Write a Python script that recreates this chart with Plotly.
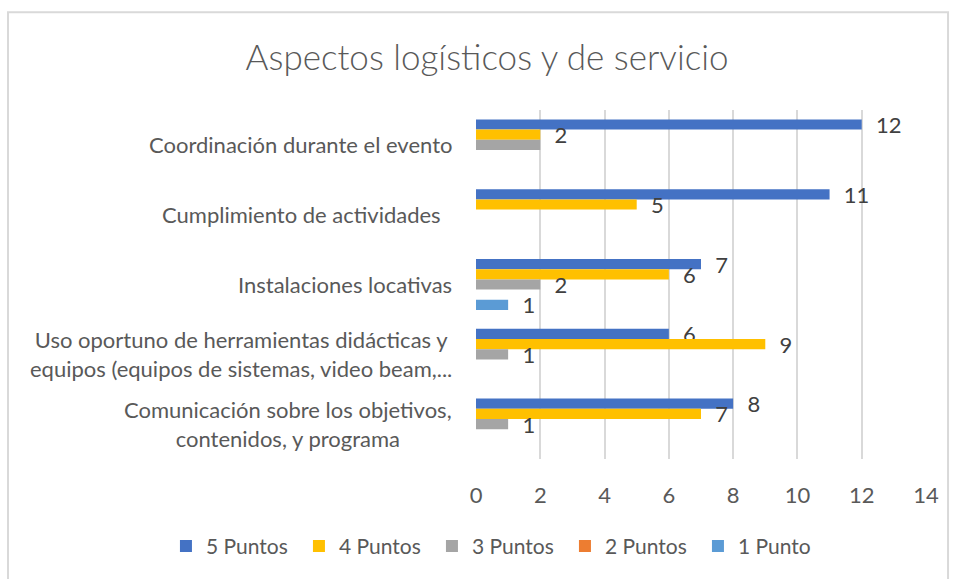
import plotly.graph_objects as go

# Categories (top to bottom as shown)
categories = [
  "Coordinación durante el evento",
  "Cumplimiento de actividades\u00a0\u00a0",
  "Instalaciones locativas",
  "Uso oportuno de herramientas didácticas y<br>equipos (equipos de sistemas, video beam,...",
  "Comunicación sobre los objetivos,<br>contenidos, y programa",
]

series_names = ["5 Puntos", "4 Puntos", "3 Puntos", "2 Puntos", "1 Punto"]
puntos_5 = [12, 11, 7, 6, 8]
puntos_4 = [2, 5, 6, 9, 7]
puntos_3 = [2, 0, 2, 1, 1]
puntos_2 = [0, 0, 0, 0, 0]
punto_1 = [0, 0, 1, 0, 0]
# labels hidden in the original (overlapping ones)
hidden_labels = {("3 Puntos", 0)}

colors = ["#4472C4", "#FFC000", "#A5A5A5", "#ED7D31", "#5B9BD5"]
values = [puntos_5, puntos_4, puntos_3, puntos_2, punto_1]

FONT = "Lato"
TXT = "#595959"

fig = go.Figure()
for name, vals, col in zip(series_names, values, colors):
  labels = []
  for i, v in enumerate(vals):
    if v == 0 or (name, i) in hidden_labels:
      labels.append("")
    else:
      labels.append("\u00a0\u00a0" + str(v))
  fig.add_trace(go.Bar(
    y=categories, x=vals, name=name, orientation='h',
    marker=dict(color=col, line=dict(width=0)),
    text=labels, textposition='outside', constraintext='none',
    cliponaxis=False,
    textfont=dict(family=FONT, size=22, color="#404040"),
    hoverinfo='x+name'))

# centered multi-line category labels, right-aligned block
for c in categories:
  fig.add_annotation(
    xref='paper', x=0, y=c, yref='y', xanchor='right', xshift=-22,
    text=c, showarrow=False, align='center',
    font=dict(family=FONT, size=22, color=TXT))

# chart border
fig.add_shape(type='rect', xref='paper', yref='paper',
  x0=-1.04, x1=1.049, y0=-0.4, y1=1.28,
  line=dict(color="#D9D9D9", width=2), layer='below')

fig.update_layout(
  width=955, height=579,
  margin=dict(l=476, r=29, t=110, b=116),
  paper_bgcolor='white', plot_bgcolor='white',
  barmode='group', bargap=0.27, bargroupgap=0,
  title=dict(text="Aspectos logísticos y de servicio", x=0.51, xanchor='center',
             y=0.9, yanchor='middle',
             font=dict(family=FONT, size=35, color=TXT, weight=300)),
  xaxis=dict(range=[0, 14], dtick=2, showgrid=True, gridcolor="#D9D9D9",
             gridwidth=1.5, zeroline=False, showline=False,
             tickfont=dict(family=FONT, size=22, color=TXT),
             ticklabelstandoff=21),
  yaxis=dict(autorange='reversed', showticklabels=False, showgrid=False,
             zeroline=False, showline=False),
  legend=dict(orientation='h', x=-0.689, xanchor='left', y=-0.25,
              yanchor='middle', entrywidth=88, entrywidthmode='pixels',
              font=dict(family=FONT, size=21, color=TXT)),
  showlegend=True,
)

fig.write_html("out.html", config={'displayModeBar': False},
               post_script="document.body.style.margin='0';")
